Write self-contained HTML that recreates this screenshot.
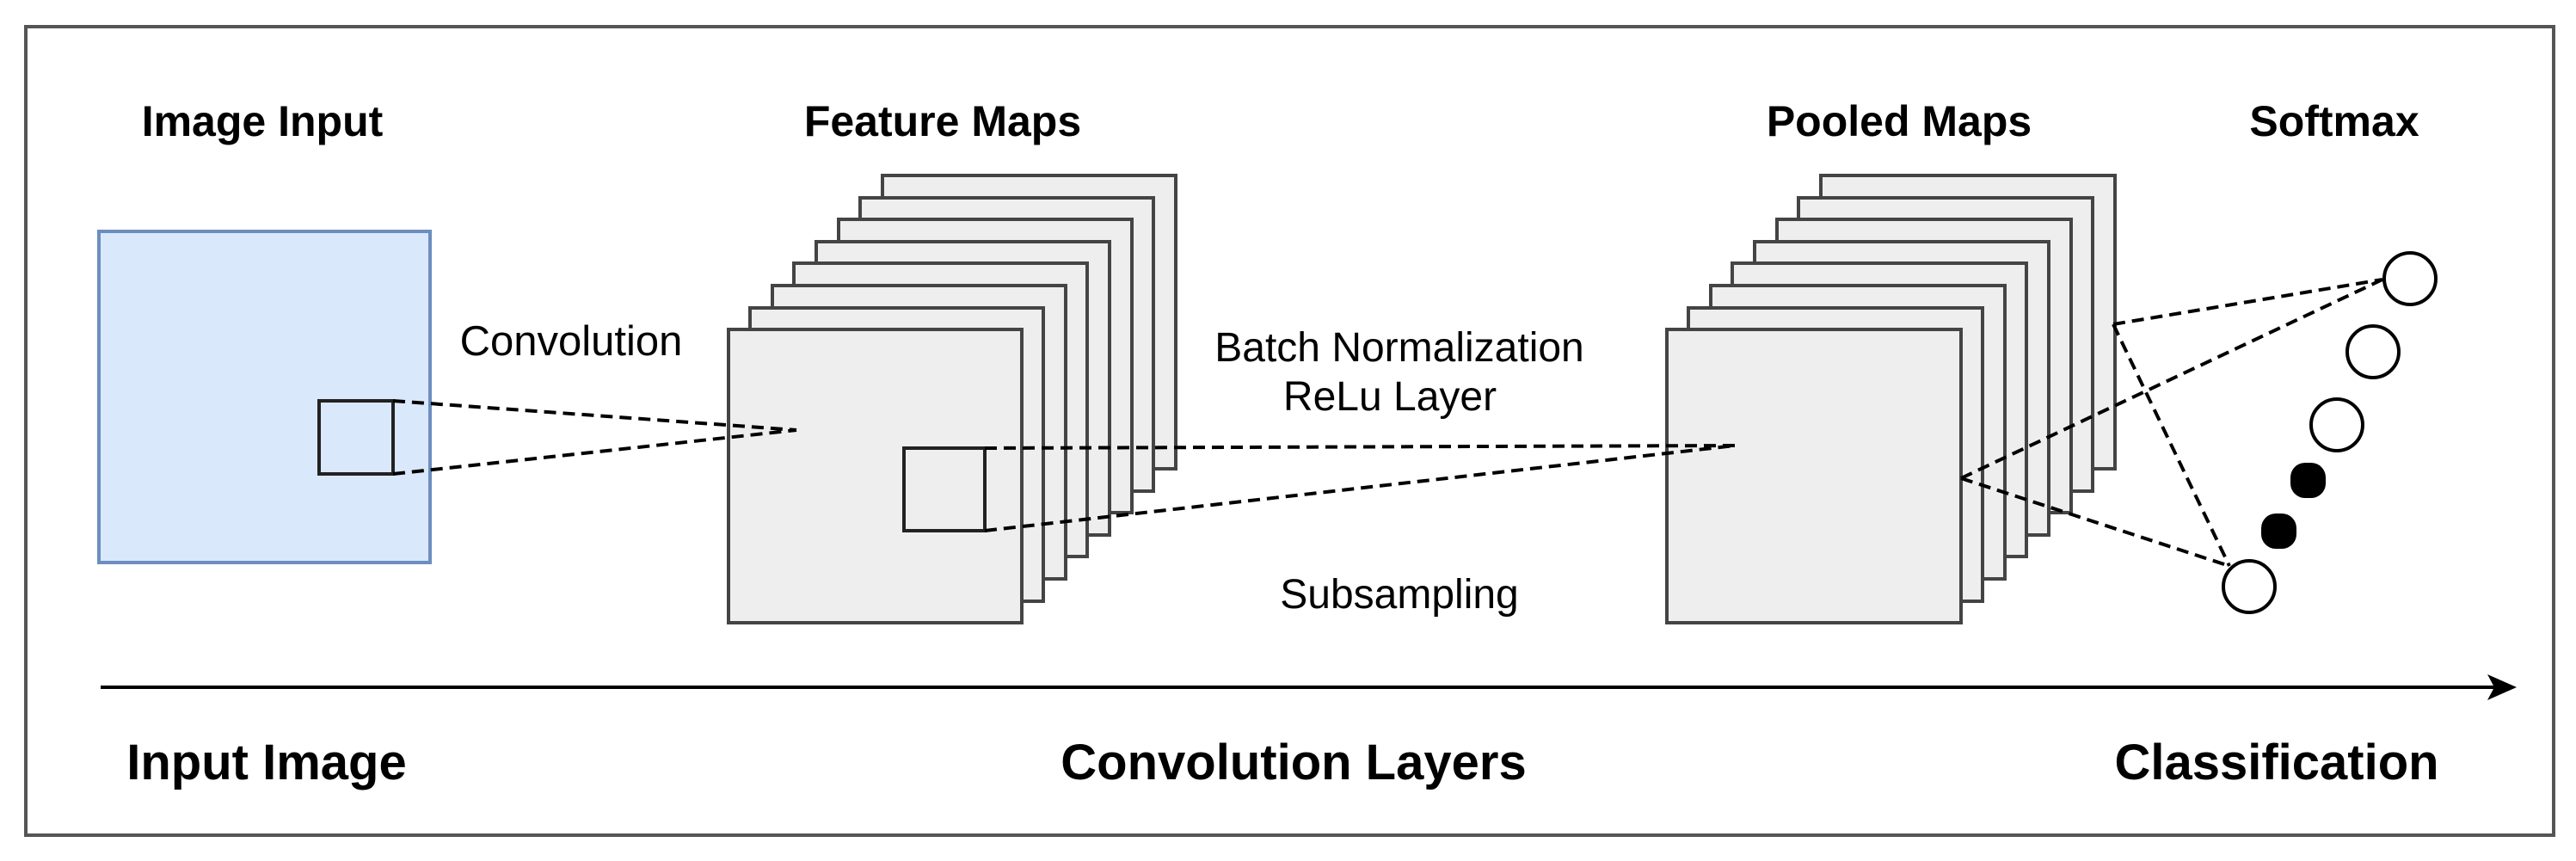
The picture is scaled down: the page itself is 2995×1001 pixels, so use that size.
<!DOCTYPE html>
<html><head><meta charset="utf-8"><style>
html,body{margin:0;padding:0;background:#fff;}
svg{display:block;}
text{font-family:"Liberation Sans",Arial,sans-serif;fill:#000;}
.b{font-weight:bold;}
</style></head><body>
<svg width="2995" height="1001" viewBox="0 0 2995 1001" xmlns="http://www.w3.org/2000/svg">
<rect x="0" y="0" width="2995" height="1001" fill="#fff"/>
<rect x="30" y="31" width="2939" height="940" fill="none" stroke="#555" stroke-width="4"/>
<text class="b" x="305" y="158" font-size="50" text-anchor="middle">Image Input</text>
<text class="b" x="1096" y="158" font-size="50" text-anchor="middle">Feature Maps</text>
<text class="b" x="2208" y="158" font-size="50" text-anchor="middle">Pooled Maps</text>
<text class="b" x="2714" y="158" font-size="50" text-anchor="middle">Softmax</text>
<text class="b" x="310" y="906" font-size="58" text-anchor="middle">Input Image</text>
<text class="b" x="1504" y="906" font-size="58" text-anchor="middle">Convolution Layers</text>
<text class="b" x="2647" y="906" font-size="58" text-anchor="middle">Classification</text>
<text x="664" y="413" font-size="49" text-anchor="middle">Convolution</text>
<text x="1627" y="420" font-size="48" text-anchor="middle">Batch Normalization</text>
<text x="1616" y="477" font-size="48" text-anchor="middle">ReLu Layer</text>
<text x="1627" y="707" font-size="48" text-anchor="middle">Subsampling</text>
<rect x="115" y="269" width="385" height="385" fill="#dae8fc" stroke="#6c8ebf" stroke-width="4"/>
<rect x="371" y="466" width="86" height="85" fill="none" stroke="#222" stroke-width="4"/>
<g fill="#eeeeee" stroke="#444" stroke-width="4">
<rect x="1026" y="204" width="341" height="341"/>
<rect x="1000" y="230" width="341" height="341"/>
<rect x="975" y="255" width="341" height="341"/>
<rect x="949" y="281" width="341" height="341"/>
<rect x="923" y="306" width="341" height="341"/>
<rect x="898" y="332" width="341" height="341"/>
<rect x="872" y="358" width="341" height="341"/>
<rect x="847" y="383" width="341" height="341"/>
<rect x="2117" y="204" width="342" height="341"/>
<rect x="2091" y="230" width="342" height="341"/>
<rect x="2066" y="255" width="342" height="341"/>
<rect x="2040" y="281" width="342" height="341"/>
<rect x="2014" y="306" width="342" height="341"/>
<rect x="1989" y="332" width="342" height="341"/>
<rect x="1963" y="358" width="342" height="341"/>
<rect x="1938" y="383" width="342" height="341"/>
</g>
<rect x="1051" y="521" width="94" height="96" fill="none" stroke="#222" stroke-width="4"/>
<g stroke="#000" stroke-width="4" stroke-dasharray="14 8" fill="none">
<line x1="457" y1="466" x2="926" y2="500"/>
<line x1="457" y1="551" x2="926" y2="500"/>
<line x1="1145" y1="521" x2="2017" y2="518"/>
<line x1="1145" y1="617" x2="2017" y2="518"/>
<line x1="2457" y1="377" x2="2770" y2="325"/>
<line x1="2457" y1="377" x2="2592" y2="658"/>
<line x1="2280" y1="556" x2="2770" y2="325"/>
<line x1="2280" y1="556" x2="2592" y2="658"/>
</g>
<g fill="#fff" stroke="#000" stroke-width="4">
<circle cx="2802" cy="324" r="30"/>
<circle cx="2759" cy="409" r="30"/>
<circle cx="2717" cy="494" r="30"/>
<circle cx="2615" cy="682" r="30"/>
</g>
<rect x="2663" y="538" width="41" height="41" rx="17" fill="#000"/>
<rect x="2629" y="597" width="41" height="41" rx="17" fill="#000"/>
<line x1="117" y1="799" x2="2900" y2="799" stroke="#000" stroke-width="4"/>
<polygon points="2926,799 2892,784 2900,799 2892,814" fill="#000"/>
</svg>
</body></html>
